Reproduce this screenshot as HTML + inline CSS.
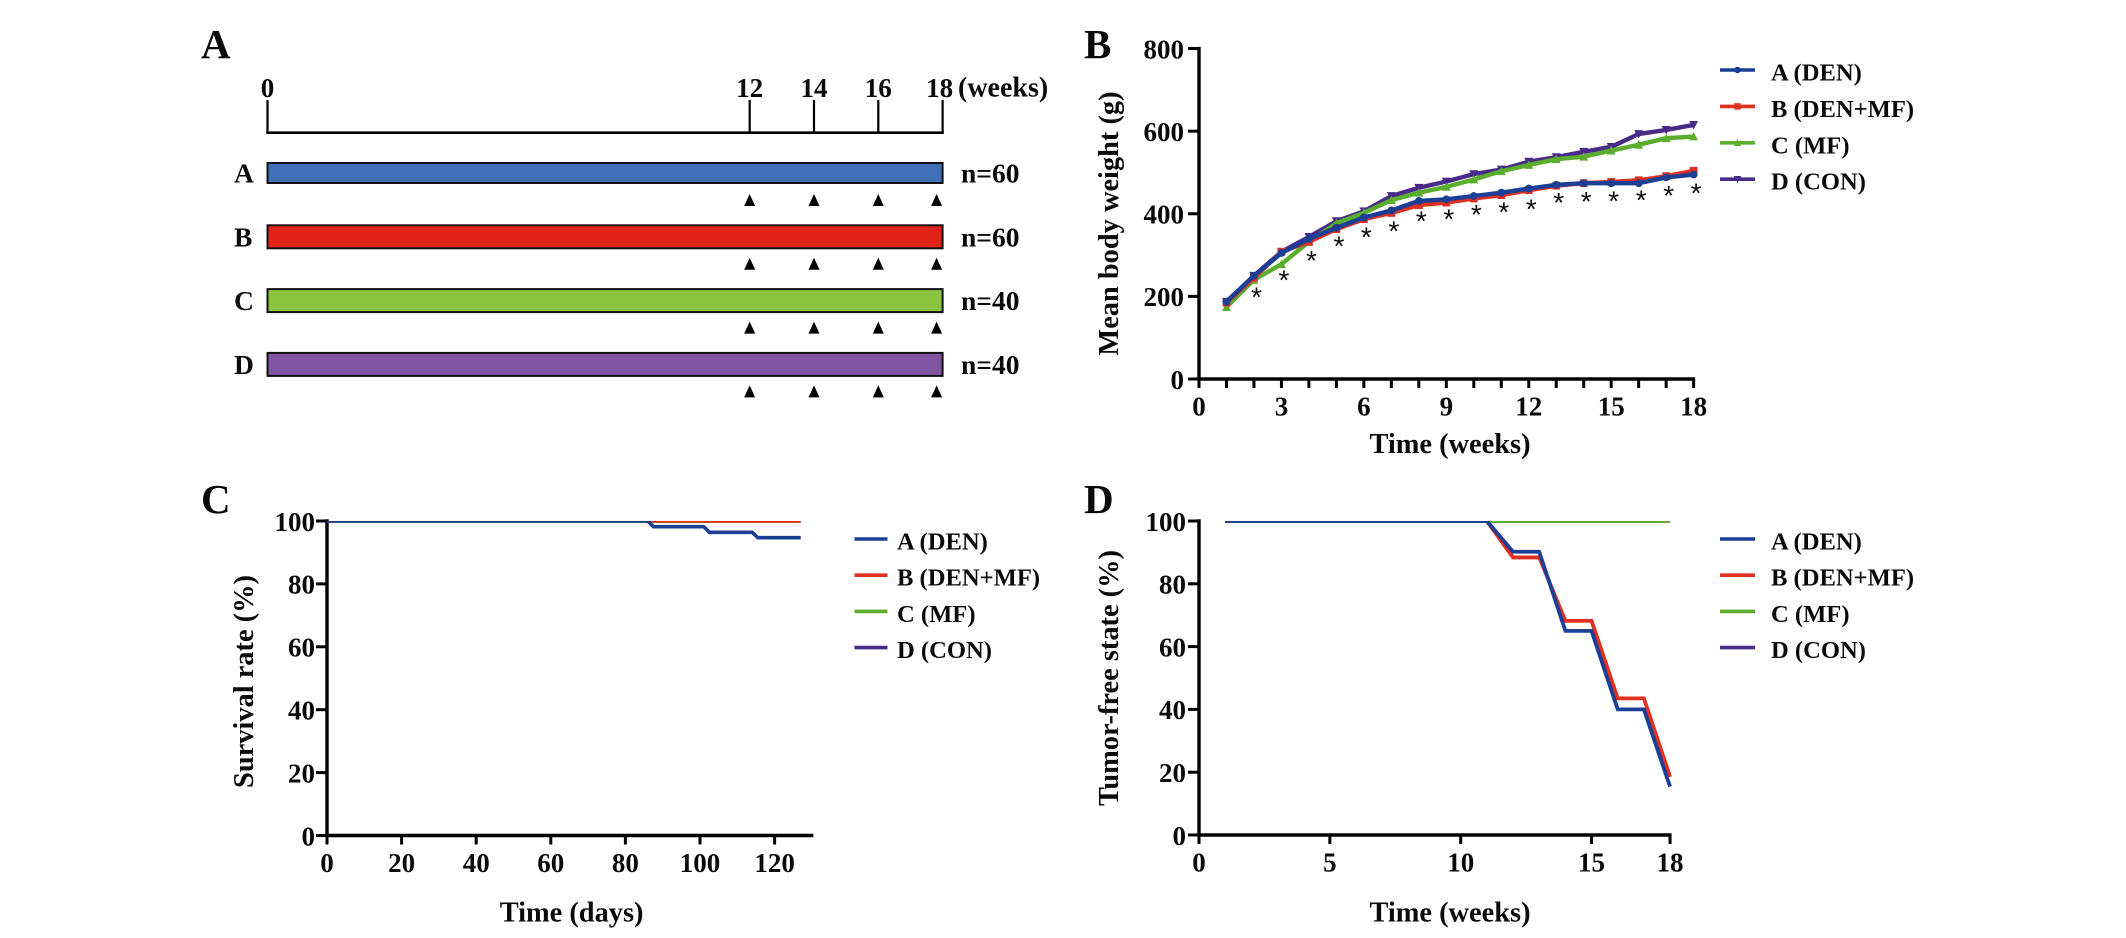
<!DOCTYPE html>
<html lang="en">
<head>
<meta charset="utf-8">
<title>Body weight, survival and tumor-free state</title>
<style>
html,body{margin:0;padding:0;background:#fff;width:2126px;height:938px;overflow:hidden}
svg{display:block}
text{font-family:"Liberation Serif",serif;font-weight:bold;fill:#0a0a0a}
</style>
</head>
<body>
<svg id="fig" xmlns="http://www.w3.org/2000/svg" width="2126" height="938" viewBox="0 0 2126 938">
  <defs>
    <clipPath id="clip-c"><rect x="300" y="521" width="560" height="330"/></clipPath>
    <clipPath id="clip-d"><rect x="1190" y="521" width="520" height="330"/></clipPath>
  </defs>
  <rect x="0" y="0" width="2126" height="938" fill="#fff"/>
  <text x="201" y="58" font-size="41">A</text>
  <text x="1084" y="58" font-size="41">B</text>
  <text x="201" y="513" font-size="41">C</text>
  <text x="1084" y="513" font-size="41">D</text>
  <g id="panel-a"></g>
  <g id="panel-b"></g>
  <g id="panel-c"></g>
  <g id="panel-d"></g>
</svg>
<script>
/* ---------- shared data ---------- */
const groupNames = ['A (DEN)', 'B (DEN+MF)', 'C (MF)', 'D (CON)'];
const lineColors = ['#1b3f95', '#e1301f', '#5bad2e', '#4a2a88'];

/* ---------- panel A data ---------- */
const rowLetters = ['A', 'B', 'C', 'D'];
const rowCounts = ['n=60', 'n=60', 'n=40', 'n=40'];
const rowColors = ['#3f6fb6', '#e22319', '#8ac43e', '#8054a1'];
const timelineWeeks = [0, 12, 14, 16, 18];
const treatmentWeeks = [12, 14, 16, 18];

/* ---------- panel B data ---------- */
const bWeeks = [1, 2, 3, 4, 5, 6, 7, 8, 9, 10, 11, 12, 13, 14, 15, 16, 17, 18];
const bSeriesA = [187, 250, 305, 339, 366, 391, 408, 431, 435, 443, 451, 461, 470, 474, 474, 474, 488, 495];
const bSeriesB = [185, 245, 308, 332, 363, 387, 402, 421, 427, 437, 445, 457, 468, 474, 477, 481, 491, 504];
const bSeriesC = [174, 240, 278, 332, 377, 402, 433, 451, 465, 483, 503, 518, 532, 538, 553, 567, 583, 587];
const bSeriesD = [187, 250, 308, 344, 382, 406, 443, 463, 478, 496, 507, 526, 537, 550, 562, 593, 603, 615];
const starWeeks = [2, 3, 4, 5, 6, 7, 8, 9, 10, 11, 12, 13, 14, 15, 16, 17, 18];
const starLevels = [206, 247, 294, 329, 351, 366, 390, 395, 405, 412, 419, 435, 437, 438, 441, 452, 458];
const bYTicks = [0, 200, 400, 600, 800];
const bXTicks = [0, 1, 2, 3, 4, 5, 6, 7, 8, 9, 10, 11, 12, 13, 14, 15, 16, 17, 18];
const bXLabels = [0, 3, 6, 9, 12, 15, 18];

/* ---------- panel C data ---------- */
const cDaysA = [0, 86, 87.5, 101, 102.5, 114, 115.5, 127];
const cValuesA = [100, 100, 98.2, 98.2, 96.4, 96.4, 94.7, 94.7];
const cDaysOther = [0, 127];
const cValuesOther = [100, 100];
const cYTicks = [0, 20, 40, 60, 80, 100];
const cXTicks = [0, 20, 40, 60, 80, 100, 120];

/* ---------- panel D data ---------- */
const dWeeks = [1, 11, 12, 13, 14, 15, 16, 17, 18];
const dValuesA = [100, 100, 90.2, 90.2, 65, 65, 40, 40, 15.4];
const dValuesB = [100, 100, 88.4, 88.4, 68.2, 68.2, 43.5, 43.5, 18.5];
const dWeeksFlat = [1, 18];
const dValuesFlat = [100, 100];
const dYTicks = [0, 20, 40, 60, 80, 100];
const dXTicks = [0, 5, 10, 15, 18];

/* ---------- helpers ---------- */
const NS = 'http://www.w3.org/2000/svg';
function make(parent, tag, attrs, txt) {
  const el = document.createElementNS(NS, tag);
  for (const k in attrs) el.setAttribute(k, attrs[k]);
  if (txt !== undefined) el.textContent = txt;
  parent.appendChild(el);
  return el;
}
function slug(s) { return String(s).toLowerCase().replace(/[^a-z0-9]+/g, '-').replace(/^-|-$/g, ''); }

function drawAxes(g, o) {
  const x0 = o.axisX, y0 = o.y(0);
  const yTop = o.y(o.yTicks[o.yTicks.length - 1]);
  const yAxis = make(g, 'line', {x1: x0, x2: x0, y1: yTop - 1.7, y2: y0 + 1.7, stroke: '#000', 'stroke-width': 3.4});
  
  
  const xAxis = make(g, 'line', {x1: x0, x2: o.x(o.xEnd) + 1.5, y1: y0, y2: y0, stroke: '#000', 'stroke-width': 3.4});
  
  
  o.yTicks.forEach(v => {
    const t = make(g, 'line', {x1: x0 - 11, x2: x0, y1: o.y(v), y2: o.y(v), stroke: '#000', 'stroke-width': 3});
    
    
    const l = make(g, 'text', {x: o.yLabelRight, y: o.y(v) + 9.8, 'font-size': 27, 'text-anchor': 'end'}, v);
    
    
  });
  o.xTicks.forEach(v => {
    const t = make(g, 'line', {x1: o.x(v), x2: o.x(v), y1: y0, y2: y0 + 9, stroke: '#000', 'stroke-width': 3});
    
    
  });
  o.xLabels.forEach(v => {
    const l = make(g, 'text', {x: o.x(v), y: y0 + 36.5, 'font-size': 27, 'text-anchor': 'middle'}, v);
    
    
  });
  const xt = make(g, 'text', {x: o.xTitleX, y: o.xTitleY, 'font-size': 28.4, 'text-anchor': 'middle'}, o.xTitle);
  
  
  const yt = make(g, 'text', {transform: 'translate(' + o.yTitleX + ',' + o.yTitleY + ') rotate(-90)', 'font-size': 28.4, 'text-anchor': 'middle'}, o.yTitle);
  
  
}

function markerAt(g, kind, cx, cy, r, color) {
  if (kind === 0) return make(g, 'circle', {cx: cx, cy: cy, r: r, fill: color});
  if (kind === 1) return make(g, 'rect', {x: cx - r, y: cy - r, width: 2 * r, height: 2 * r, fill: color});
  if (kind === 2) return make(g, 'polygon', {points: [cx - r - .6, cy + r, cx + r + .6, cy + r, cx, cy - r - .6].join(' '), fill: color});
  return make(g, 'polygon', {points: [cx - r - .6, cy - r, cx + r + .6, cy - r, cx, cy + r + .6].join(' '), fill: color});
}

function drawLegend(g, lineX1, lineX2, textX, rowYs, withMarkers) {
  groupNames.forEach((name, i) => {
    const y = rowYs(i);
    const ln = make(g, 'line', {x1: lineX1, x2: lineX2, y1: y, y2: y, stroke: lineColors[i], 'stroke-width': 3.6});
    
    
    if (withMarkers) {
      const m = markerAt(g, i, (lineX1 + lineX2) / 2, y, 3.2, lineColors[i]);
      
      
    }
    const t = make(g, 'text', {x: textX, y: y + 10.5, 'font-size': 24.6}, name);
    
    
  });
}
const legendRow = i => 539 + i * 36.2;

function drawSeries(g, xs, ys, xf, yf, color, width, name, clip) {
  const pts = xs.map((v, i) => xf(v).toFixed(2) + ',' + yf(ys[i]).toFixed(2)).join(' ');
  const attrs = {points: pts, fill: 'none', stroke: color, 'stroke-width': width, 'stroke-linejoin': 'miter'};
  if (clip) attrs['clip-path'] = 'url(#' + clip + ')';
  const el = make(g, 'polyline', attrs);
  
  
}

/* ---------- panel A ---------- */
(function () {
  const g = document.getElementById('panel-a');
  const tx = w => w <= 12 ? 267.5 + w * 40.18 : 749.7 + (w - 12) * 32.15;
  const rowC = i => 173 + i * 63.8;
  const rowH = i => i === 0 ? 20 : 23;
  const base = make(g, 'line', {x1: tx(0) - 1.2, x2: tx(18) + 1.2, y1: 132.7, y2: 132.7, stroke: '#000', 'stroke-width': 2.6});
  
  
  timelineWeeks.forEach(w => {
    const t = make(g, 'line', {x1: tx(w), x2: tx(w), y1: 100, y2: 133, stroke: '#000', 'stroke-width': 2.2});
    
    
    const l = make(g, 'text', {x: tx(w) + (w === 18 ? -3 : 0), y: 97, 'font-size': 27, 'text-anchor': 'middle'}, w);
    
    
  });
  const wk = make(g, 'text', {x: 958, y: 96.5, 'font-size': 28}, '(weeks)');
  
  
  rowLetters.forEach((letter, i) => {
    const c = rowC(i), h = rowH(i);
    const r = make(g, 'rect', {x: tx(0), y: c - h / 2, width: tx(18) - tx(0), height: h, fill: rowColors[i], stroke: '#111', 'stroke-width': 2});
    
    
    const a = make(g, 'text', {x: 234, y: c + 9.5, 'font-size': 27.5}, letter);
    
    
    const n = make(g, 'text', {x: 961, y: c + 9.5, 'font-size': 27.5}, rowCounts[i]);
    
    
    treatmentWeeks.forEach(w => {
      const cx = tx(w) + (w === 18 ? -6 : 0);
      const top = c + 21;
      const tri = make(g, 'polygon', {points: [cx - 5.5, top + 12, cx + 5.5, top + 12, cx, top].join(' '), fill: '#000'});
      
      
    });
  });
})();

/* ---------- panel B ---------- */
(function () {
  const g = document.getElementById('panel-b');
  const x = w => 1199 + w * 27.48;
  const y = v => 379 - v * 0.4131;
  drawAxes(g, {axisX: 1199, x: x, y: y, xEnd: 18, yTicks: bYTicks, xTicks: bXTicks, xLabels: bXLabels,
    yLabelRight: 1184, xTitle: 'Time (weeks)', xTitleX: 1450, xTitleY: 453,
    yTitle: 'Mean body weight (g)', yTitleX: 1118, yTitleY: 223.5});
  const series = [bSeriesD, bSeriesC, bSeriesB, bSeriesA];
  const idx = [3, 2, 1, 0];
  series.forEach((vals, s) => {
    const k = idx[s];
    drawSeries(g, bWeeks, vals, x, y, lineColors[k], 4.4, 'series-line-' + slug(groupNames[k]));
    vals.forEach((v, i) => {
      const m = markerAt(g, k, x(bWeeks[i]), y(v), 3.9, lineColors[k]);
      
      
    });
  });
  starWeeks.forEach((w, i) => {
    const s = make(g, 'text', {x: x(w) + 2.5, y: y(starLevels[i]) + 12.5, 'font-size': 28, 'text-anchor': 'middle', style: 'font-family:"Liberation Sans",sans-serif;font-weight:normal'}, '*');
    
    
  });
  drawLegend(g, 1720, 1755, 1771, i => 70 + i * 36.4, true);
})();

/* ---------- panel C ---------- */
(function () {
  const g = document.getElementById('panel-c');
  const x = d => 327 + d * 3.73;
  const y = v => 835.5 - v * 3.145;
  drawAxes(g, {axisX: 327, x: x, y: y, xEnd: 130, yTicks: cYTicks, xTicks: cXTicks, xLabels: cXTicks,
    yLabelRight: 315, xTitle: 'Time (days)', xTitleX: 571.6, xTitleY: 921.7,
    yTitle: 'Survival rate (%)', yTitleX: 253, yTitleY: 681.5});
  drawSeries(g, cDaysOther, cValuesOther, x, y, lineColors[3], 3.4, 'survival-line-d-con', 'clip-c');
  drawSeries(g, cDaysOther, cValuesOther, x, y, lineColors[2], 3.4, 'survival-line-c-mf', 'clip-c');
  drawSeries(g, cDaysOther, cValuesOther, x, y, lineColors[1], 3.4, 'survival-line-b-den-mf', 'clip-c');
  drawSeries(g, cDaysA, cValuesA, x, y, lineColors[0], 3.6, 'survival-line-a-den', 'clip-c');
  drawLegend(g, 854.5, 887.5, 897, legendRow, false);
})();

/* ---------- panel D ---------- */
(function () {
  const g = document.getElementById('panel-d');
  const x = w => 1199 + w * 26.17;
  const y = v => 835 - v * 3.14;
  drawAxes(g, {axisX: 1199, x: x, y: y, xEnd: 18, yTicks: dYTicks, xTicks: dXTicks, xLabels: dXTicks,
    yLabelRight: 1186, xTitle: 'Time (weeks)', xTitleX: 1450, xTitleY: 921.7,
    yTitle: 'Tumor-free state (%)', yTitleX: 1118, yTitleY: 678});
  drawSeries(g, dWeeksFlat, dValuesFlat, x, y, lineColors[3], 3.4, 'tumor-free-line-d-con', 'clip-d');
  drawSeries(g, dWeeksFlat, dValuesFlat, x, y, lineColors[2], 3.4, 'tumor-free-line-c-mf', 'clip-d');
  drawSeries(g, dWeeks, dValuesB, x, y, lineColors[1], 3.8, 'tumor-free-line-b-den-mf', 'clip-d');
  drawSeries(g, dWeeks, dValuesA, x, y, lineColors[0], 3.8, 'tumor-free-line-a-den', 'clip-d');
  drawLegend(g, 1720, 1755, 1771, legendRow, false);
})();
</script>
</body>
</html>
